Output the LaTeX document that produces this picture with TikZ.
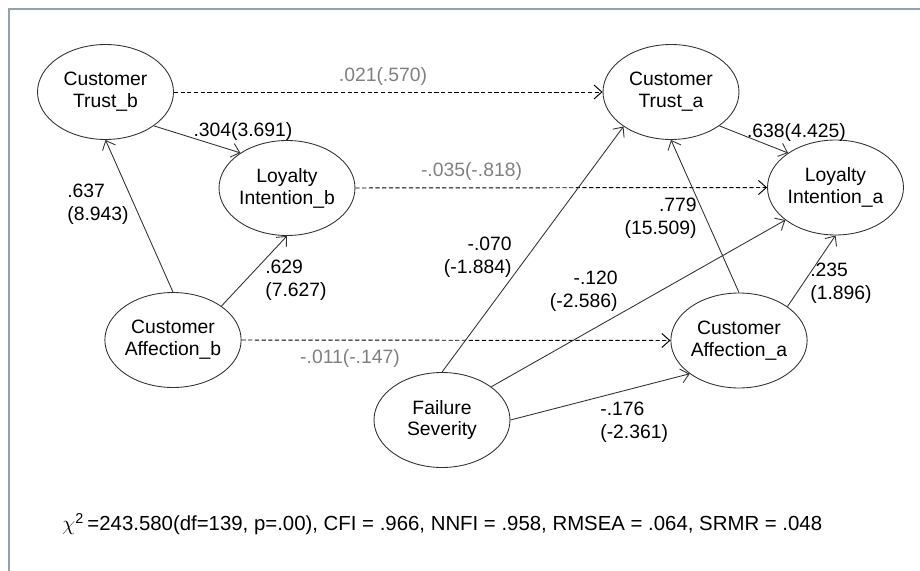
\documentclass[tikz,border=0pt]{standalone}
\usepackage{fontspec}
\setmainfont{Liberation Sans}
\usepackage{xcolor}
\definecolor{framecol}{RGB}{143,164,168}
\definecolor{estgray}{RGB}{128,128,128}
\definecolor{linecol}{RGB}{50,50,50}
\usetikzlibrary{arrows.meta,shapes.geometric}

\begin{document}
\begin{tikzpicture}[x=0.02cm,y=-0.02cm,
  every node/.style={font=\fontsize{11}{12.5}\selectfont},
  construct/.style={ellipse,draw=linecol,line width=0.5pt,minimum width=2.72cm,minimum height=1.9cm,inner sep=0pt,align=center},
  effect/.style={draw=linecol,line width=0.5pt,-{Straight Barb[length=4.5pt,width=8pt]}},
  nullfx/.style={effect,draw=black,line width=0.55pt,dash pattern=on 2.4pt off 1.4pt},
  est/.style={font=\fontsize{11}{13}\selectfont,inner sep=0pt},
  nullest/.style={est,text=estgray}]
\useasboundingbox (0,0) rectangle (920,571);
\draw[framecol,line width=1.5pt] (9,571) -- (9,9) -- (920,9);
% constructs
\node[construct] (trustb) at (105.5,92) {Customer\\Trust\_b};
\node[construct] (loyb) at (287,188) {Loyalty\\Intention\_b};
\node[construct] (affb) at (173,340) {Customer\\Affection\_b};
\node[construct] (trusta) at (671,92) {Customer\\Trust\_a};
\node[construct] (loya) at (835.5,187.5) {Loyalty\\Intention\_a};
\node[construct] (affa) at (739,340.5) {Customer\\Affection\_a};
\node[construct] (fail) at (442,420) {Failure\\Severity};
% before -> after (dashed)
\draw[nullfx] (trustb.east) -- (trusta.west);
\draw[nullfx] (loyb.east) -- (loya.west);
\draw[nullfx] (affb.east) -- (affa.west);
% paths
\draw[effect] (trustb.325.5) -- (loyb.143.5);
\draw[effect] (trusta.325) -- (loya.144.8);
\draw[effect] (affb.north) -- (trustb.south);
\draw[effect] (affb.35.5) -- (loyb.south);
\draw[effect] (affa.north) -- (trusta.south);
\draw[effect] (affa.35.9) -- (loya.south);
\draw[effect] (fail.north) -- (trusta.216);
\draw[effect] (fail.34.2) -- (loya.213.5);
\draw[effect] (fail.east) -- (affa.214.7);
% estimates
\node[nullest] (e1) at (383,76) {.021(.570)};
\node[nullest] (e2) at (471.5,171) {-.035(-.818)};
\node[nullest] (e3) at (350,358) {-.011(-.147)};
\node[est] (e4) at (243,131) {.304(3.691)};
\node[est] (e5) at (796.5,132) {.638(4.425)};
\node[est,align=left,anchor=west] (e6) at (67,204.5) {.637\\(8.943)};
\node[est,align=left,anchor=west] (e7) at (265,280) {.629\\(7.627)};
\node[est,align=right,anchor=east] (e8) at (512,257) {-.070\\(-1.884)};
\node[est,align=right,anchor=east] (e9) at (618,291.5) {-.120\\(-2.586)};
\node[est,align=left,anchor=west] (e10) at (600,422.5) {-.176\\(-2.361)};
\node[est,align=right,anchor=east] (e11) at (697,218.5) {.779\\(15.509)};
\node[est,align=left,anchor=west] (e12) at (810,283.5) {.235\\(1.896)};
% fit indices
\node[inner sep=0pt,anchor=west,font=\fontsize{11.6}{13}\selectfont] (fit) at (62,524)
  {$\chi$\textsuperscript{2}\,=243.580(df=139, p=.00), CFI = .966, NNFI = .958, RMSEA = .064, SRMR = .048};
\end{tikzpicture}
\end{document}
